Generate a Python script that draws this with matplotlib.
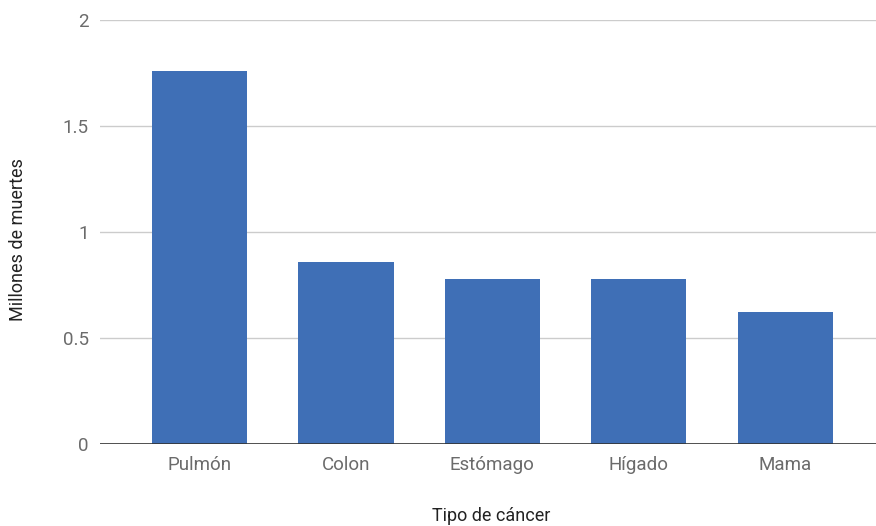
import matplotlib

matplotlib.use("Agg")
import matplotlib.pyplot as plt  # noqa: E402

plt.rcParams["font.family"] = ["Roboto", "DejaVu Sans"]

categories = ["Pulmón", "Colon", "Estómago", "Hígado", "Mama"]
deaths_millions = [1.76, 0.86, 0.78, 0.78, 0.625]
y_ticks = [0, 0.5, 1, 1.5, 2]
y_tick_labels = ["0", "0.5", "1", "1.5", "2"]

fig = plt.figure(figsize=(8.76, 5.26), dpi=100)
ax = fig.add_axes([100 / 876, 1 - 444 / 526, 776 / 876, 424 / 526])

x = list(range(len(categories)))
ax.bar(x, deaths_millions, width=0.65, color="#3f6fb6", zorder=3)

ax.set_ylim(0, 2)
ax.set_xlim(-0.68, 4.62)
ax.set_yticks(y_ticks)
ax.set_yticklabels(y_tick_labels)
ax.set_xticks(x)
ax.set_xticklabels(categories)

ax.grid(axis="y", color="#cccccc", linewidth=1, zorder=0)
ax.axhline(0, color="#333333", linewidth=1.2, zorder=4)
for side in ["top", "right", "left", "bottom"]:
    ax.spines[side].set_visible(False)

ax.tick_params(axis="both", length=0, labelsize=13.5, labelcolor="#6b6b6b")
ax.tick_params(axis="x", pad=9)
ax.tick_params(axis="y", pad=8)

# axis titles placed in figure pixels, as in the reference
fig.text(491 / 876, 1 - 516 / 526, "Tipo de cáncer", fontsize=13, color="#222222",
         ha="center", va="center")
fig.text(18 / 876, 1 - 240 / 526, "Millones de muertes", fontsize=13, color="#222222",
         ha="center", va="center", rotation=90)

fig.savefig("out.png", dpi=100)
plt.close(fig)
